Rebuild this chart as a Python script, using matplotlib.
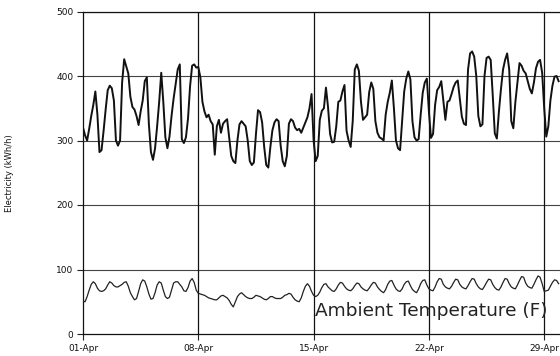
import numpy as np
import matplotlib
matplotlib.use("Agg")
import matplotlib.pyplot as plt

# ---- data (3-hour samples, 8 per day, starting 01-Apr 00:00) ----
electricity = [
    320, 308, 300, 318, 338, 355, 376, 340,   # 01-Apr
    282, 285, 315, 348, 378, 385, 381, 362,   # 02
    300, 292, 300, 390, 426, 415, 404, 368,   # 03
    352, 348, 338, 324, 345, 362, 392, 398,   # 04
    325, 282, 270, 288, 322, 360, 405, 360,   # 05
    305, 288, 306, 338, 365, 388, 410, 418,   # 06
    302, 296, 305, 334, 384, 416, 418, 413,   # 07
    414, 398, 360, 345, 336, 340, 330, 325,   # 08
    278, 322, 332, 312, 326, 330, 333, 305,   # 09
    276, 268, 265, 300, 325, 330, 326, 322,   # 10
    300, 268, 262, 266, 310, 347, 344, 328,   # 11
    290, 262, 258, 290, 316, 328, 333, 330,   # 12
    292, 268, 260, 276, 326, 333, 330, 320,   # 13
    316, 318, 312, 320, 328, 336, 350, 372,   # 14
    300, 268, 276, 332, 346, 350, 382, 352,   # 15
    310, 297, 298, 322, 360, 362, 376, 386,   # 16
    315, 300, 290, 330, 410, 418, 408, 360,   # 17
    332, 336, 340, 375, 390, 380, 330, 312,   # 18
    305, 303, 300, 340, 360, 374, 393, 350,   # 19
    300, 288, 285, 330, 376, 396, 407, 395,   # 20
    330, 305, 300, 302, 340, 374, 390, 396,   # 21
    345, 304, 310, 355, 378, 383, 392, 362,   # 22
    332, 360, 362, 372, 383, 390, 393, 365,   # 23
    337, 326, 324, 410, 435, 438, 430, 400,   # 24
    338, 322, 325, 400, 428, 430, 425, 370,   # 25
    311, 303, 345, 380, 410, 425, 435, 410,   # 26
    330, 319, 360, 390, 420, 416, 408, 404,   # 27
    392, 380, 373, 390, 412, 422, 425, 405,   # 28
    350, 306, 322, 362, 385, 399, 400, 392,   # 29
]

temperature = [
    51, 50, 58, 68, 77, 81, 78, 71,
    67, 66, 67, 70, 76, 81, 79, 75,
    73, 73, 75, 77, 80, 81, 74, 64,
    58, 53, 55, 66, 78, 84, 82, 73,
    62, 54, 55, 64, 76, 81, 79, 68,
    58, 55, 57, 68, 79, 81, 81, 77,
    73, 67, 66, 72, 82, 86, 80, 68,
    63, 62, 61, 60, 58, 56, 55, 54,
    53, 53, 56, 59, 60, 58, 56, 52,
    46, 42, 50, 58, 62, 64, 61, 58,
    56, 55, 55, 57, 60, 59, 58, 56,
    54, 53, 55, 58, 58, 56, 55, 55,
    55, 57, 60, 61, 63, 62, 57, 53,
    51, 50, 56, 66, 74, 78, 74, 66,
    60, 58, 60, 65, 72, 77, 78, 73,
    70, 67, 66, 70, 76, 80, 79, 74,
    70, 68, 67, 70, 75, 79, 78, 73,
    70, 68, 67, 71, 76, 80, 79, 73,
    69, 66, 64, 69, 77, 82, 83, 76,
    70, 67, 66, 70, 77, 81, 82, 75,
    69, 66, 64, 70, 78, 83, 84, 76,
    70, 68, 67, 73, 81, 86, 85, 77,
    73, 71, 70, 74, 80, 85, 84, 77,
    73, 71, 70, 75, 81, 86, 85, 78,
    73, 70, 69, 74, 80, 85, 84, 77,
    72, 69, 68, 73, 80, 86, 85, 78,
    73, 71, 70, 76, 83, 89, 88, 79,
    74, 72, 71, 77, 84, 90, 88, 78,
    66, 67, 68, 74, 80, 84, 83, 78,
]

tick_labels = ["01-Apr", "08-Apr", "15-Apr", "22-Apr", "29-Apr"]
tick_hours = [0, 168, 336, 504, 672]
y_ticks = [0, 100, 200, 300, 400, 500]

hours = np.arange(len(electricity)) * 3

fig = plt.figure(figsize=(5.6, 3.56), dpi=100)
ax = fig.add_axes([83 / 560, 1 - 334 / 356, 1 - 83 / 560, (334 - 11.5) / 356])

for yv in y_ticks[1:]:
    ax.axhline(yv, color="#444444", lw=0.8, zorder=1)
for xv in tick_hours[1:]:
    ax.axvline(xv, color="#111111", lw=0.9, zorder=1)

ax.plot(hours, electricity, color="#111111", lw=1.4, zorder=3)
ax.plot(hours, temperature, color="#222222", lw=0.9, zorder=3)

ax.text(338, 36, "Ambient Temperature (F)", fontsize=13.3, color="#222222",
        ha="left", va="center", zorder=4)

ax.set_xlim(0, 695)
ax.set_ylim(0, 500)
ax.set_xticks(tick_hours)
ax.set_xticklabels(tick_labels)
ax.set_yticks(y_ticks)
ax.tick_params(axis="both", labelsize=6.5, length=4, width=0.8, color="#222222",
               labelcolor="#111111", direction="out", pad=3)
for side in ["left", "bottom", "top"]:
    ax.spines[side].set_color("#111111")
    ax.spines[side].set_linewidth(0.9)
ax.spines["right"].set_visible(False)

ax.set_ylabel("Electricity (kWh/h)", fontsize=6, color="#111111", labelpad=30)

fig.savefig("out.png", dpi=100)
